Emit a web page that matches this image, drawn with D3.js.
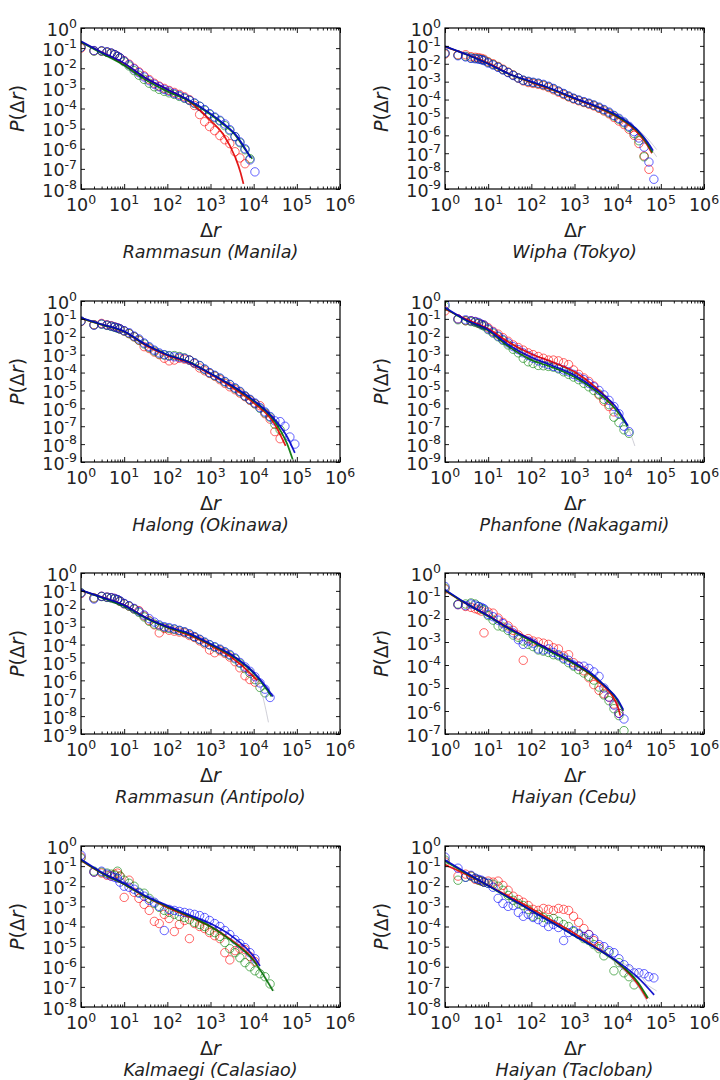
<!DOCTYPE html>
<html>
<head>
<meta charset="utf-8">
<script src="https://cdn.jsdelivr.net/npm/d3@7"></script>
<style>
body { margin: 0; background: #fff; }
svg { display: block; font-family: "DejaVu Sans", sans-serif; }
</style>
</head>
<body>
<div id="chart"></div>
<script>
// log-spaced bin centres of the displacement, shared by every panel
var dr = [1, 2, 3, 4, 5, 6, 7, 8, 10, 13, 17, 22, 29, 38, 50, 65, 85, 110, 145, 190, 250, 325, 425, 560, 730, 950,
          1250, 1650, 2150, 2800, 3700, 4800, 6300, 8200, 10700, 14000, 18300, 24000, 31000, 41000, 53000, 69000, 90000];

var titles = ["Rammasun (Manila)", "Wipha (Tokyo)", "Halong (Okinawa)", "Phanfone (Nakagami)",
              "Rammasun (Antipolo)", "Haiyan (Cebu)", "Kalmaegi (Calasiao)", "Haiyan (Tacloban)"];
var yMins = [1e-8, 1e-9, 1e-9, 1e-9, 1e-9, 1e-7, 1e-8, 1e-8];
var xTicks = [1, 10, 100, 1e3, 1e4, 1e5, 1e6];

// ---- Rammasun (Manila)
var manilaRed = [1.0e-1, 7.4e-2, 7.1e-2, 6.3e-2, 5.6e-2, 4.8e-2, 4.0e-2, 3.3e-2, 2.4e-2, 1.6e-2, 1.0e-2, 6.6e-3, 4.2e-3, 2.75e-3, 1.8e-3, 1.3e-3, 1.0e-3, 7.9e-4, 6.3e-4, 5.0e-4, 3.8e-4, 2.75e-4, 1.4e-4, 5.0e-5, 2.2e-5, 1.26e-5, 7.9e-6, 4.5e-6, 2.8e-6, 1.8e-6, 7.1e-7, 3.5e-7, 1.8e-7];
var manilaGreen = [1.1e-1, 7.1e-2, 7.1e-2, 6.3e-2, 5.5e-2, 4.7e-2, 3.8e-2, 3.2e-2, 2.1e-2, 1.3e-2, 7.6e-3, 4.5e-3, 2.8e-3, 1.8e-3, 1.2e-3, 8.9e-4, 7.1e-4, 6.0e-4, 5.0e-4, 4.0e-4, 3.2e-4, 2.5e-4, 1.8e-4, 1.3e-4, 8.3e-5, 5.2e-5, 3.5e-5, 2.4e-5, 1.4e-5, 7.9e-6, 4.0e-6, 2.0e-6, 8.9e-7, 3.2e-7];
var manilaBlue = [1.1e-1, 7.6e-2, 7.4e-2, 6.6e-2, 5.8e-2, 4.8e-2, 4.0e-2, 3.3e-2, 2.3e-2, 1.5e-2, 9.3e-3, 6.0e-3, 3.7e-3, 2.4e-3, 1.6e-3, 1.2e-3, 8.9e-4, 7.2e-4, 5.6e-4, 4.4e-4, 3.4e-4, 2.6e-4, 1.9e-4, 1.3e-4, 8.9e-5, 5.6e-5, 3.8e-5, 2.6e-5, 1.7e-5, 8.9e-6, 4.0e-6, 2.2e-6, 1.0e-6, 2.8e-7, 7.1e-8];
var manilaFitRed = [[1, 2.0e-1], [3, 6.3e-2], [10, 1.7e-2], [30, 3.5e-3], [100, 8.9e-4], [300, 2.5e-4], [1000, 2.5e-5], [2000, 5.0e-6], [3700, 4.0e-7], [5000, 6.3e-8], [5800, 1.8e-8]];
var manilaFitGreen = [[1, 2.0e-1], [3, 5.6e-2], [10, 1.4e-2], [30, 2.8e-3], [100, 7.1e-4], [300, 2.5e-4], [1000, 5.0e-5], [2000, 1.6e-5], [4000, 4.0e-6], [6000, 1.1e-6], [9300, 3.2e-7]];
var manilaFitBlue = [[1, 2.2e-1], [3, 6.3e-2], [10, 1.8e-2], [30, 3.5e-3], [100, 8.9e-4], [300, 2.8e-4], [1000, 5.6e-5], [2000, 1.8e-5], [4000, 4.5e-6], [6000, 1.26e-6], [8500, 3.5e-7]];

// ---- Wipha (Tokyo)
var tokyoRed = [3.5e-2, 3.2e-2, 3.2e-2, 2.5e-2, 2.3e-2, 2.2e-2, 2.0e-2, 1.8e-2, 1.3e-2, 1.0e-2, 7.1e-3, 5.0e-3, 3.4e-3, 2.4e-3, 1.6e-3, 1.1e-3, 8.9e-4, 7.9e-4, 7.1e-4, 6.0e-4, 4.7e-4, 3.5e-4, 2.6e-4, 1.9e-4, 1.4e-4, 1.07e-4, 8.5e-5, 6.8e-5, 5.5e-5, 4.4e-5, 3.2e-5, 2.3e-5, 1.6e-5, 1.0e-5, 6.3e-6, 4.0e-6, 2.2e-6, 1.0e-6, 3.5e-7, 7.1e-8, 1.26e-8];
var tokyoGreen = [3.8e-2, 3.0e-2, 2.6e-2, 2.1e-2, 2.0e-2, 1.9e-2, 1.7e-2, 1.6e-2, 1.2e-2, 9.1e-3, 6.6e-3, 4.7e-3, 3.3e-3, 2.3e-3, 1.6e-3, 1.2e-3, 1.0e-3, 8.9e-4, 7.9e-4, 6.6e-4, 5.2e-4, 4.0e-4, 2.9e-4, 2.1e-4, 1.5e-4, 1.15e-4, 9.1e-5, 7.2e-5, 6.0e-5, 4.8e-5, 3.5e-5, 2.6e-5, 1.8e-5, 1.2e-5, 7.9e-6, 5.0e-6, 2.8e-6, 1.26e-6, 5.0e-7, 6.3e-8];
var tokyoBlue = [4.0e-2, 2.8e-2, 2.4e-2, 2.0e-2, 1.9e-2, 1.8e-2, 1.7e-2, 1.5e-2, 1.1e-2, 8.5e-3, 6.3e-3, 4.5e-3, 3.2e-3, 2.2e-3, 1.6e-3, 1.2e-3, 1.05e-3, 9.3e-4, 8.3e-4, 7.1e-4, 5.6e-4, 4.2e-4, 3.0e-4, 2.2e-4, 1.6e-4, 1.2e-4, 9.5e-5, 7.6e-5, 6.3e-5, 5.0e-5, 3.8e-5, 2.8e-5, 2.0e-5, 1.3e-5, 8.9e-6, 5.6e-6, 3.2e-6, 1.6e-6, 7.1e-7, 2.2e-7, 3.2e-8, 3.5e-9];
var tokyoFitRed = [[1, 8.9e-2], [3, 3.5e-2], [10, 1.1e-2], [30, 2.8e-3], [100, 8.9e-4], [300, 3.5e-4], [1000, 1.07e-4], [3000, 4.0e-5], [10000, 1.0e-5], [30000, 1.26e-6], [50000, 2.5e-7], [62000, 1.0e-7]];
var tokyoFitGreen = [[1, 9.3e-2], [3, 3.4e-2], [10, 1.0e-2], [30, 2.7e-3], [100, 9.5e-4], [300, 3.8e-4], [1000, 1.15e-4], [3000, 4.3e-5], [10000, 1.1e-5], [30000, 1.6e-6], [50000, 3.2e-7], [64000, 1.1e-7]];
var tokyoFitBlue = [[1, 9.5e-2], [3, 3.5e-2], [10, 1.0e-2], [30, 2.8e-3], [100, 1.0e-3], [300, 4.0e-4], [1000, 1.2e-4], [3000, 4.5e-5], [10000, 1.26e-5], [30000, 1.8e-6], [50000, 4.0e-7], [66000, 1.4e-7]];
var tokyoGray = [[[10000, 1.26e-5], [30000, 1.6e-6], [50000, 3.2e-7], [80000, 6.3e-8]],
                 [[10000, 1.1e-5], [30000, 2.0e-6], [50000, 6.3e-7], [80000, 1.6e-7]]];

// ---- Halong (Okinawa)
var okinawaRed = [7.1e-2, 4.8e-2, 5.6e-2, 4.7e-2, 4.2e-2, 3.6e-2, 3.2e-2, 2.75e-2, 2.1e-2, 1.5e-2, 1.0e-2, 6.3e-3, 2.8e-3, 2.2e-3, 1.4e-3, 1.0e-3, 6.3e-4, 4.5e-4, 5.0e-4, 6.3e-4, 5.6e-4, 5.0e-4, 3.2e-4, 1.8e-4, 1.26e-4, 8.9e-5, 6.3e-5, 4.0e-5, 2.5e-5, 1.6e-5, 1.1e-5, 7.1e-6, 4.5e-6, 2.8e-6, 1.8e-6, 1.4e-6, 5.0e-7, 2.5e-7, 5.0e-8, 2.0e-8];
var okinawaGreen = [7.4e-2, 4.6e-2, 5.0e-2, 4.3e-2, 3.8e-2, 3.4e-2, 3.0e-2, 2.7e-2, 2.1e-2, 1.5e-2, 1.0e-2, 6.6e-3, 4.0e-3, 2.5e-3, 1.6e-3, 1.1e-3, 9.5e-4, 8.9e-4, 8.9e-4, 7.9e-4, 6.6e-4, 5.0e-4, 3.5e-4, 2.4e-4, 1.5e-4, 9.5e-5, 6.6e-5, 4.7e-5, 3.0e-5, 2.1e-5, 1.3e-5, 8.3e-6, 4.8e-6, 3.0e-6, 1.8e-6, 1.0e-6, 5.6e-7, 3.2e-7, 1.26e-7, 6.3e-8];
var okinawaBlue = [7.6e-2, 4.4e-2, 5.2e-2, 4.5e-2, 4.0e-2, 3.5e-2, 3.2e-2, 2.8e-2, 2.2e-2, 1.7e-2, 1.1e-2, 7.6e-3, 4.5e-3, 2.8e-3, 1.8e-3, 1.26e-3, 1.0e-3, 8.3e-4, 7.6e-4, 7.1e-4, 6.3e-4, 5.0e-4, 3.5e-4, 2.5e-4, 1.6e-4, 1.0e-4, 7.1e-5, 5.0e-5, 3.2e-5, 2.2e-5, 1.4e-5, 8.9e-6, 5.0e-6, 3.2e-6, 2.0e-6, 1.1e-6, 6.3e-7, 3.5e-7, 2.0e-7, 1.8e-7, 1.0e-7, 2.5e-8, 1.0e-8];
var okinawaFitRed = [[1, 1.07e-1], [3, 4.8e-2], [10, 1.9e-2], [30, 3.5e-3], [100, 8.9e-4], [300, 3.8e-4], [1000, 7.9e-5], [3000, 1.6e-5], [10000, 2.0e-6], [30000, 1.4e-7], [55000, 7.9e-9]];
var okinawaFitGreen = [[1, 1.1e-1], [3, 4.8e-2], [10, 1.9e-2], [30, 3.8e-3], [100, 1.0e-3], [300, 4.2e-4], [1000, 8.9e-5], [3000, 1.9e-5], [10000, 2.5e-6], [30000, 2.0e-7], [60000, 1.0e-8], [80000, 1.4e-9]];
var okinawaFitBlue = [[1, 1.17e-1], [3, 5.0e-2], [10, 2.0e-2], [30, 4.0e-3], [100, 1.0e-3], [300, 4.0e-4], [1000, 8.9e-5], [3000, 2.0e-5], [10000, 2.8e-6], [30000, 2.5e-7], [60000, 2.5e-8], [90000, 3.2e-9]];

// ---- Phanfone (Nakagami)
var nakagamiRed = [2.8e-1, 1.0e-1, 7.9e-2, 7.9e-2, 7.1e-2, 5.6e-2, 5.0e-2, 4.5e-2, 3.2e-2, 2.0e-2, 1.4e-2, 8.9e-3, 5.6e-3, 3.5e-3, 2.5e-3, 1.8e-3, 1.26e-3, 1.0e-3, 7.9e-4, 6.3e-4, 5.0e-4, 5.0e-4, 4.5e-4, 3.5e-4, 2.8e-4, 1.4e-4, 7.9e-5, 5.0e-5, 3.2e-5, 1.8e-5, 5.6e-6, 2.5e-6, 1.26e-6, 6.3e-7];
var nakagamiGreen = [5.0e-1, 8.9e-2, 7.9e-2, 7.1e-2, 6.3e-2, 5.6e-2, 4.5e-2, 4.0e-2, 2.5e-2, 1.6e-2, 1.0e-2, 6.3e-3, 3.5e-3, 2.0e-3, 1.26e-3, 6.3e-4, 4.0e-4, 3.2e-4, 2.5e-4, 2.4e-4, 2.2e-4, 2.0e-4, 1.6e-4, 1.1e-4, 7.9e-5, 5.6e-5, 4.0e-5, 2.5e-5, 1.6e-5, 1.0e-5, 6.3e-6, 3.2e-6, 1.6e-6, 3.2e-7, 1.6e-7, 6.3e-8, 4.0e-8];
var nakagamiBlue = [6.3e-1, 1.0e-1, 8.9e-2, 7.9e-2, 7.1e-2, 6.3e-2, 5.0e-2, 4.5e-2, 2.8e-2, 1.8e-2, 1.1e-2, 7.1e-3, 4.5e-3, 2.8e-3, 1.9e-3, 1.26e-3, 8.9e-4, 6.3e-4, 4.5e-4, 3.5e-4, 2.8e-4, 2.2e-4, 1.8e-4, 1.4e-4, 1.1e-4, 7.9e-5, 5.6e-5, 4.0e-5, 2.5e-5, 1.6e-5, 1.0e-5, 5.6e-6, 2.8e-6, 1.26e-6, 5.0e-7, 1.0e-7, 5.0e-8];
var nakagamiFitRed = [[1, 3.5e-1], [3, 1.0e-1], [10, 2.8e-2], [30, 5.0e-3], [100, 1.1e-3], [300, 4.0e-4], [1000, 1.1e-4], [3000, 1.6e-5], [8000, 1.6e-6]];
var nakagamiFitGreen = [[1, 4.0e-1], [3, 8.3e-2], [10, 2.2e-2], [30, 2.8e-3], [100, 5.0e-4], [300, 2.0e-4], [1000, 5.6e-5], [3000, 1.0e-5], [10000, 6.3e-7], [17000, 1.0e-7]];
var nakagamiFitBlue = [[1, 4.3e-1], [3, 8.9e-2], [10, 2.5e-2], [30, 3.5e-3], [100, 7.1e-4], [300, 2.5e-4], [1000, 7.1e-5], [3000, 1.26e-5], [10000, 8.9e-7], [17000, 1.1e-7]];
var nakagamiGray = [[[3000, 1.26e-5], [10000, 7.9e-7], [17000, 1.0e-7], [25000, 7.9e-9]]];

// ---- Rammasun (Antipolo)
var antipoloRed = [7.1e-2, 4.0e-2, 5.0e-2, 4.5e-2, 4.2e-2, 3.8e-2, 3.2e-2, 2.6e-2, 1.9e-2, 1.4e-2, 1.0e-2, 7.9e-3, 4.0e-3, 2.2e-3, 1.26e-3, 4.5e-4, 7.9e-4, 6.3e-4, 5.6e-4, 5.0e-4, 4.5e-4, 3.2e-4, 2.5e-4, 1.6e-4, 1.1e-4, 5.0e-5, 3.5e-5, 4.5e-5, 3.2e-5, 2.0e-5, 1.1e-5, 5.0e-6, 1.8e-6, 1.1e-6, 7.9e-7];
var antipoloGreen = [7.9e-2, 4.0e-2, 4.8e-2, 4.3e-2, 4.0e-2, 3.5e-2, 3.2e-2, 2.6e-2, 1.9e-2, 1.4e-2, 9.5e-3, 6.3e-3, 3.5e-3, 2.0e-3, 1.4e-3, 1.1e-3, 8.9e-4, 7.9e-4, 7.1e-4, 6.0e-4, 5.0e-4, 3.8e-4, 2.7e-4, 1.9e-4, 1.3e-4, 9.5e-5, 7.1e-5, 5.2e-5, 3.7e-5, 2.5e-5, 1.6e-5, 8.9e-6, 4.5e-6, 2.5e-6, 1.1e-6, 4.0e-7, 2.0e-7];
var antipoloBlue = [7.6e-2, 3.5e-2, 5.0e-2, 4.5e-2, 4.2e-2, 3.8e-2, 3.3e-2, 2.8e-2, 2.0e-2, 1.5e-2, 1.05e-2, 7.1e-3, 4.5e-3, 2.8e-3, 1.8e-3, 1.26e-3, 1.0e-3, 8.9e-4, 7.6e-4, 6.3e-4, 5.2e-4, 4.0e-4, 2.8e-4, 2.0e-4, 1.4e-4, 1.0e-4, 7.6e-5, 5.6e-5, 4.0e-5, 2.8e-5, 1.8e-5, 1.0e-5, 5.6e-6, 3.2e-6, 1.6e-6, 7.1e-7, 3.2e-7, 1.1e-7];
var antipoloFitRed = [[1, 1.05e-1], [3, 4.5e-2], [10, 1.6e-2], [30, 3.5e-3], [100, 8.9e-4], [300, 3.5e-4], [1000, 8.9e-5], [3000, 2.0e-5], [10000, 1.6e-6], [12000, 1.0e-6]];
var antipoloFitGreen = [[1, 1.07e-1], [3, 4.2e-2], [10, 1.4e-2], [30, 3.2e-3], [100, 8.9e-4], [300, 4.0e-4], [1000, 1.0e-4], [3000, 2.5e-5], [10000, 2.5e-6], [20000, 3.2e-7], [26000, 1.26e-7]];
var antipoloFitBlue = [[1, 1.1e-1], [3, 4.5e-2], [10, 1.6e-2], [30, 3.5e-3], [100, 1.0e-3], [300, 4.5e-4], [1000, 1.1e-4], [3000, 2.8e-5], [10000, 2.8e-6], [20000, 4.0e-7], [28000, 1.26e-7]];
var antipoloGray = [[[3000, 2.5e-5], [10000, 2.0e-6], [15000, 2.5e-7], [22000, 4.5e-9]]];

// ---- Haiyan (Cebu)
var cebuRed = [2.0e-1, 4.2e-2, 3.5e-2, 3.2e-2, 2.8e-2, 2.5e-2, 2.2e-2, 2.5e-3, 2.0e-2, 1.8e-2, 1.1e-2, 7.1e-3, 5.0e-3, 3.2e-3, 2.0e-3, 1.6e-4, 1.4e-3, 1.1e-3, 1.0e-3, 8.9e-4, 7.9e-4, 5.6e-4, 5.0e-4, 2.5e-4, 2.8e-4, 1.26e-4, 8.9e-5, 5.6e-5, 2.8e-5, 1.4e-5, 7.9e-6, 5.6e-6, 4.0e-6, 2.0e-6, 7.9e-7];
var cebuGreen = [2.2e-1, 4.5e-2, 4.5e-2, 5.0e-2, 4.5e-2, 3.5e-2, 2.8e-2, 2.5e-2, 1.4e-2, 8.9e-3, 5.0e-3, 4.5e-3, 3.2e-3, 2.0e-3, 1.6e-3, 1.1e-3, 7.9e-4, 6.3e-4, 4.5e-4, 4.0e-4, 3.5e-4, 2.8e-4, 2.5e-4, 1.8e-4, 1.26e-4, 8.9e-5, 6.3e-5, 4.5e-5, 3.2e-5, 2.2e-5, 1.1e-5, 5.0e-6, 2.8e-6, 1.26e-6, 6.3e-7, 1.4e-7];
var cebuBlue = [2.6e-1, 4.2e-2, 3.8e-2, 4.5e-2, 4.0e-2, 3.5e-2, 3.2e-2, 2.8e-2, 1.6e-2, 1.26e-2, 8.9e-3, 6.3e-3, 4.0e-3, 2.5e-3, 1.26e-3, 7.9e-4, 1.1e-3, 8.9e-4, 5.0e-4, 4.5e-4, 5.0e-4, 3.5e-4, 2.8e-4, 2.0e-4, 1.6e-4, 1.0e-4, 8.9e-5, 8.9e-5, 7.1e-5, 5.0e-5, 3.2e-5, 1.0e-5, 4.0e-6, 1.8e-6, 7.9e-7, 4.5e-7];
var cebuFitRed = [[1, 1.7e-1], [3, 4.8e-2], [10, 1.4e-2], [30, 4.2e-3], [100, 1.26e-3], [300, 4.0e-4], [1000, 1.1e-4], [3000, 2.5e-5], [10000, 1.6e-6], [11500, 6.3e-7]];
var cebuFitGreen = [[1, 1.8e-1], [3, 4.8e-2], [10, 1.3e-2], [30, 3.7e-3], [100, 1.1e-3], [300, 3.5e-4], [1000, 1.1e-4], [3000, 2.8e-5], [10000, 2.8e-6], [13500, 1.0e-6]];
var cebuFitBlue = [[1, 1.9e-1], [3, 5.0e-2], [10, 1.4e-2], [30, 4.0e-3], [100, 1.26e-3], [300, 4.0e-4], [1000, 1.26e-4], [3000, 3.2e-5], [5000, 1.26e-5], [10000, 3.2e-6], [13500, 1.15e-6]];

// ---- Kalmaegi (Calasiao)
var calasiaoRed = [2.8e-1, 5.0e-2, 4.5e-2, 3.5e-2, 3.2e-2, 4.0e-2, 4.5e-2, 3.2e-2, 2.8e-3, 2.0e-2, 5.0e-3, 2.5e-3, 1.26e-3, 6.3e-4, 1.8e-4, 1.4e-4, 4.0e-4, 2.5e-4, 5.6e-5, 1.26e-4, 2.0e-4, 2.5e-5, 1.4e-4, 1.0e-4, 7.9e-5, 5.0e-5, 3.5e-5, 2.5e-5, 5.0e-6, 2.2e-6, 6.3e-6, 7.9e-6, 7.1e-6, 3.2e-6, 1.8e-6];
var calasiaoGreen = [2.5e-1, 5.6e-2, 5.0e-2, 4.5e-2, 4.0e-2, 3.5e-2, 5.6e-2, 3.2e-2, 2.0e-2, 1.4e-2, 1.0e-2, 5.0e-3, 4.5e-3, 2.5e-3, 1.4e-3, 8.9e-4, 6.3e-4, 5.0e-4, 4.0e-4, 3.2e-4, 2.8e-4, 2.2e-4, 1.6e-4, 1.26e-4, 1.0e-4, 6.3e-5, 5.0e-5, 3.2e-5, 1.6e-5, 7.9e-6, 5.0e-6, 2.8e-6, 1.6e-6, 1.0e-6, 6.3e-7, 4.5e-7, 3.2e-7, 1.4e-7];
var calasiaoBlue = [3.5e-1, 5.0e-2, 5.6e-2, 4.0e-2, 3.2e-2, 2.8e-2, 2.5e-2, 1.6e-2, 1.0e-2, 8.9e-3, 7.1e-3, 4.5e-3, 3.2e-3, 2.0e-3, 1.6e-3, 1.0e-3, 6.3e-5, 7.1e-4, 6.3e-4, 5.6e-4, 5.0e-4, 4.5e-4, 4.0e-4, 3.5e-4, 2.8e-4, 2.0e-4, 1.4e-4, 1.0e-4, 6.3e-5, 4.0e-5, 2.2e-5, 1.4e-5, 8.9e-6, 5.0e-6, 2.5e-6];
var calasiaoFitRed = [[1, 1.9e-1], [3, 4.5e-2], [10, 1.26e-2], [30, 3.2e-3], [100, 8.9e-4], [300, 3.2e-4], [1000, 1.0e-4], [3000, 2.2e-5], [10000, 2.2e-6], [12000, 1.26e-6]];
var calasiaoFitGreen = [[1, 2.0e-1], [3, 4.5e-2], [10, 1.26e-2], [30, 3.2e-3], [100, 1.0e-3], [300, 3.5e-4], [1000, 1.0e-4], [3000, 2.0e-5], [10000, 2.0e-6], [28000, 6.3e-8]];
var calasiaoFitBlue = [[1, 2.2e-1], [3, 5.0e-2], [10, 1.4e-2], [30, 3.5e-3], [100, 1.1e-3], [300, 4.0e-4], [1000, 1.4e-4], [3000, 3.5e-5], [10000, 3.2e-6], [14000, 1.1e-6]];
var calasiaoGray = [[[3000, 2.5e-5], [10000, 2.5e-6], [20000, 2.5e-7], [30000, 6.3e-8]]];

// ---- Haiyan (Tacloban)
var taclobanRed = [1.6e-1, 3.2e-2, 4.0e-2, 3.2e-2, 2.2e-2, 2.0e-2, 1.8e-2, 1.6e-2, 1.8e-2, 1.6e-2, 1.8e-2, 1.1e-2, 6.3e-3, 3.2e-3, 2.2e-3, 1.6e-3, 1.1e-3, 7.1e-4, 6.3e-4, 7.9e-4, 7.1e-4, 6.3e-4, 7.9e-4, 7.1e-4, 6.3e-4, 3.2e-4, 1.6e-4, 7.9e-5, 4.0e-5, 2.0e-5, 1.0e-5];
var taclobanGreen = [2.0e-1, 2.0e-2, 2.8e-2, 3.2e-2, 2.5e-2, 2.0e-2, 1.8e-2, 1.6e-2, 1.4e-2, 1.26e-2, 1.0e-2, 6.3e-3, 3.5e-3, 2.0e-3, 1.4e-3, 1.1e-3, 7.1e-4, 3.2e-4, 4.0e-4, 2.8e-4, 2.2e-4, 2.5e-4, 1.8e-4, 1.26e-4, 1.0e-4, 5.6e-5, 4.0e-5, 2.5e-5, 2.0e-5, 1.26e-5, 7.9e-6, 3.5e-6, 5.0e-6, 6.3e-7, 1.6e-6, 5.0e-7, 3.2e-7, 1.26e-7];
var taclobanBlue = [2.8e-1, 7.9e-2, 2.8e-2, 3.5e-2, 2.5e-2, 2.2e-2, 2.0e-2, 1.6e-2, 1.4e-2, 8.9e-3, 2.5e-3, 1.4e-3, 1.0e-3, 1.1e-3, 5.0e-4, 3.2e-4, 4.0e-4, 2.8e-4, 2.2e-4, 1.6e-4, 1.0e-4, 1.26e-4, 8.9e-5, 2.0e-5, 5.0e-5, 6.3e-5, 4.5e-5, 3.2e-5, 4.0e-5, 2.5e-5, 1.26e-5, 1.0e-5, 6.3e-6, 5.0e-6, 2.5e-6, 1.26e-6, 7.9e-7, 5.0e-7, 5.0e-7, 4.5e-7, 3.2e-7, 2.8e-7];
var taclobanFitRed = [[1, 1.15e-1], [3, 4.0e-2], [10, 1.1e-2], [30, 3.2e-3], [100, 7.9e-4], [300, 2.0e-4], [1000, 4.5e-5], [3000, 1.0e-5], [10000, 1.6e-6], [30000, 1.26e-7], [48000, 2.5e-8]];
var taclobanFitGreen = [[1, 1.8e-1], [3, 4.5e-2], [10, 1.05e-2], [30, 2.6e-3], [100, 6.3e-4], [300, 1.6e-4], [1000, 3.5e-5], [3000, 8.9e-6], [10000, 1.6e-6], [30000, 1.6e-7], [50000, 2.8e-8]];
var taclobanFitBlue = [[1, 2.0e-1], [3, 5.0e-2], [10, 1.1e-2], [30, 2.8e-3], [100, 6.3e-4], [300, 1.6e-4], [1000, 3.5e-5], [3000, 8.9e-6], [10000, 1.8e-6], [30000, 2.8e-7], [70000, 4.0e-8]];
var taclobanGray = [[[3000, 1.0e-5], [10000, 2.0e-6], [30000, 5.0e-7], [45000, 1.6e-7]],
                    [[3000, 8.9e-6], [10000, 1.26e-6], [30000, 1.0e-7], [50000, 1.6e-8]],
                    [[3000, 1.0e-5], [10000, 1.8e-6], [30000, 2.5e-7], [80000, 6.3e-8]],
                    [[3000, 7.9e-6], [10000, 1.4e-6], [30000, 1.26e-7], [55000, 2.5e-8]]];

var panels = [
    {red: manilaRed, green: manilaGreen, blue: manilaBlue, fits: [manilaFitRed, manilaFitGreen, manilaFitBlue], gray: []},
    {red: tokyoRed, green: tokyoGreen, blue: tokyoBlue, fits: [tokyoFitRed, tokyoFitGreen, tokyoFitBlue], gray: tokyoGray},
    {red: okinawaRed, green: okinawaGreen, blue: okinawaBlue, fits: [okinawaFitRed, okinawaFitGreen, okinawaFitBlue], gray: []},
    {red: nakagamiRed, green: nakagamiGreen, blue: nakagamiBlue, fits: [nakagamiFitRed, nakagamiFitGreen, nakagamiFitBlue], gray: nakagamiGray},
    {red: antipoloRed, green: antipoloGreen, blue: antipoloBlue, fits: [antipoloFitRed, antipoloFitGreen, antipoloFitBlue], gray: antipoloGray},
    {red: cebuRed, green: cebuGreen, blue: cebuBlue, fits: [cebuFitRed, cebuFitGreen, cebuFitBlue], gray: []},
    {red: calasiaoRed, green: calasiaoGreen, blue: calasiaoBlue, fits: [calasiaoFitRed, calasiaoFitGreen, calasiaoFitBlue], gray: calasiaoGray},
    {red: taclobanRed, green: taclobanGreen, blue: taclobanBlue, fits: [taclobanFitRed, taclobanFitGreen, taclobanFitBlue], gray: taclobanGray}
];

var width = 720, height = 1080;
var colX = [81, 445], rowY = [28, 301, 573, 846];
var W = 259, H = 161;
var markColor = ["#ff0000", "#008000", "#0000ff"];
var lineColor = ["#e00000", "#007000", "#0000c8"];
var fontSize = 17.5, supSize = 12.5, labelSize = 19;

var svg = d3.select("#chart").append("svg")
    .attr("width", width)
    .attr("height", height);
svg.append("rect").attr("width", width).attr("height", height).attr("fill", "#fff");
var defs = svg.append("defs");

// minor tick positions 2..9 in every decade
var minorX = [];
for (var e = 0; e < 6; e++) {
    for (var k = 2; k < 10; k++) minorX.push(k * Math.pow(10, e));
}

function power(t, d) {
    t.append("tspan").text("10");
    t.append("tspan").attr("dy", -7.5).attr("font-size", supSize).text(Math.round(Math.log10(d)));
}

panels.forEach(function(p, i) {
    var g = svg.append("g")
        .attr("transform", "translate(" + colX[i % 2] + "," + rowY[Math.floor(i / 2)] + ")");

    var x = d3.scaleLog().domain([1, 1e6]).range([0, W]);
    var y = d3.scaleLog().domain([yMins[i], 1]).range([H, 0]);
    var yTicks = d3.range(0, Math.round(Math.log10(yMins[i])) - 1, -1).map(function(n) { return Math.pow(10, n); });

    defs.append("clipPath").attr("id", "clip" + i)
        .append("rect").attr("width", W).attr("height", H);
    var plot = g.append("g").attr("clip-path", "url(#clip" + i + ")");

    // scatter of the three series
    [p.red, p.green, p.blue].forEach(function(vals, s) {
        plot.append("g").selectAll("circle")
            .data(vals)
            .enter().append("circle")
            .attr("cx", function(d, j) { return x(dr[j]); })
            .attr("cy", function(d) { return y(d); })
            .attr("r", 4.2)
            .attr("fill", "none")
            .attr("stroke", markColor[s])
            .attr("stroke-opacity", 0.6)
            .attr("stroke-width", 1);
    });

    var line = d3.line()
        .x(function(d) { return x(d[0]); })
        .y(function(d) { return y(d[1]); })
        .curve(d3.curveMonotoneX);

    p.gray.forEach(function(gl) {
        plot.append("path").attr("d", line(gl))
            .attr("fill", "none").attr("stroke", "#a8a8b8")
            .attr("stroke-width", 0.8).attr("stroke-opacity", 0.7);
    });
    p.fits.forEach(function(f, s) {
        plot.append("path").attr("d", line(f))
            .attr("fill", "none").attr("stroke", lineColor[s])
            .attr("stroke-width", 1.7).attr("stroke-opacity", 0.9);
    });

    // inward ticks on all four sides
    function ticks(axis, tx, ty) {
        var a = g.append("g").attr("transform", "translate(" + tx + "," + ty + ")").call(axis);
        a.select(".domain").remove();
        a.selectAll(".tick line").attr("stroke", "#000").attr("stroke-width", 0.9);
    }
    ticks(d3.axisBottom(x).tickValues(xTicks).tickSize(-5).tickFormat(""), 0, H);
    ticks(d3.axisBottom(x).tickValues(minorX).tickSize(-2.5).tickFormat(""), 0, H);
    ticks(d3.axisTop(x).tickValues(xTicks).tickSize(-5).tickFormat(""), 0, 0);
    ticks(d3.axisTop(x).tickValues(minorX).tickSize(-2.5).tickFormat(""), 0, 0);
    ticks(d3.axisLeft(y).tickValues(yTicks).tickSize(-4).tickFormat(""), 0, 0);
    ticks(d3.axisRight(y).tickValues(yTicks).tickSize(-4).tickFormat(""), W, 0);

    g.append("rect")
        .attr("width", W).attr("height", H)
        .attr("fill", "none").attr("stroke", "#000").attr("stroke-width", 1.2);

    // tick labels
    g.append("g").selectAll("text")
        .data(xTicks)
        .enter().append("text")
        .attr("x", function(d) { return x(d); })
        .attr("y", H + 22)
        .attr("text-anchor", "middle")
        .attr("font-size", fontSize)
        .attr("fill", "#222")
        .each(function(d) { power(d3.select(this), d); });

    g.append("g").selectAll("text")
        .data(yTicks)
        .enter().append("text")
        .attr("x", -4)
        .attr("y", function(d) { return y(d) + 7.5; })
        .attr("text-anchor", "end")
        .attr("font-size", fontSize)
        .attr("fill", "#222")
        .each(function(d) { power(d3.select(this), d); });

    // axis labels and title
    var yl = g.append("text")
        .attr("transform", "translate(-57," + (H / 2) + ") rotate(-90)")
        .attr("text-anchor", "middle")
        .attr("font-size", labelSize)
        .attr("fill", "#222");
    yl.append("tspan").attr("font-style", "italic").text("P");
    yl.append("tspan").text("(\u0394");
    yl.append("tspan").attr("font-style", "italic").text("r");
    yl.append("tspan").text(")");

    var xl = g.append("text")
        .attr("x", W / 2).attr("y", H + 48)
        .attr("text-anchor", "middle")
        .attr("font-size", labelSize)
        .attr("fill", "#222");
    xl.append("tspan").text("\u0394");
    xl.append("tspan").attr("font-style", "italic").text("r");

    g.append("text")
        .attr("x", W / 2).attr("y", H + 69)
        .attr("text-anchor", "middle")
        .attr("font-size", fontSize)
        .attr("font-style", "italic")
        .attr("fill", "#222")
        .text(titles[i]);
});
</script>
</body>
</html>
